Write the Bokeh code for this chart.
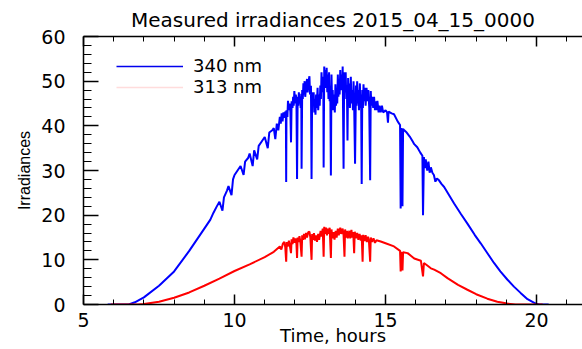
from bokeh.plotting import figure
from bokeh.models import (LinearAxis, Range1d, Legend, LegendItem, FixedTicker,
                          ColumnDataSource, CustomLabelingPolicy)
from bokeh.embed import file_html
from bokeh.resources import INLINE

# ---- data (time in hours, irradiance) ----
time_340 = [5.8, 6.5, 6.7, 7.0, 7.5, 8.0, 8.5, 9.0, 9.2, 9.3, 9.4, 9.5, 9.6, 9.65, 9.75,
            9.8, 9.9, 9.95, 10.0, 10.1, 10.2, 10.3, 10.35, 10.45, 10.5, 10.6, 10.65,
            10.75, 10.8, 10.9, 11.0, 11.1, 11.15, 11.25, 11.3, 11.35, 11.4, 11.45,
            11.50, 11.53, 11.56, 11.59, 11.62, 11.65, 11.68, 11.70, 11.71, 11.72, 11.75,
            11.77, 11.80, 11.83, 11.85, 11.87, 11.89, 11.92, 11.94, 11.96, 11.98, 12.01,
            12.03, 12.05, 12.07, 12.09, 12.11, 12.13, 12.15, 12.17, 12.19, 12.21, 12.22,
            12.24, 12.26, 12.28, 12.30, 12.32, 12.34, 12.37, 12.40, 12.42, 12.45, 12.48,
            12.50, 12.53, 12.55, 12.57, 12.59, 12.62, 12.64, 12.66, 12.68, 12.70, 12.72,
            12.75, 12.77, 12.80, 12.82, 12.84, 12.86, 12.88, 12.90, 12.92, 12.94, 12.95,
            12.97, 12.99, 13.01, 13.03, 13.05, 13.07, 13.09, 13.11, 13.13, 13.15, 13.17,
            13.19, 13.21, 13.23, 13.25, 13.27, 13.30, 13.32, 13.34, 13.36, 13.38, 13.40,
            13.42, 13.44, 13.46, 13.48, 13.50, 13.52, 13.55, 13.57, 13.58, 13.61, 13.63,
            13.65, 13.68, 13.70, 13.72, 13.74, 13.76, 13.78, 13.80, 13.82, 13.85, 13.87,
            13.90, 13.92, 13.94, 13.96, 13.99, 14.02, 14.04, 14.06, 14.08, 14.10, 14.12,
            14.15, 14.17, 14.19, 14.21, 14.23, 14.25, 14.27, 14.29, 14.31, 14.34, 14.37,
            14.40, 14.43, 14.46, 14.49, 14.51, 14.53, 14.56, 14.59, 14.62, 14.65, 14.68,
            14.71, 14.73, 14.77, 14.80, 14.84, 14.88, 14.92, 15.00,
            15.05, 15.08, 15.1, 15.2, 15.28, 15.4, 15.48,
            15.5, 15.53, 15.56, 15.58, 15.62, 15.7, 15.8, 15.9, 15.95, 16.05, 16.15,
            16.22, 16.24, 16.27, 16.3, 16.33, 16.38, 16.42, 16.46, 16.5, 16.55, 16.6,
            16.65, 16.7, 16.77, 16.85, 16.94, 17.1, 17.27, 17.5, 17.71, 17.95, 18.15,
            18.4, 18.59, 18.8, 19.03, 19.25, 19.47, 19.7, 19.97, 20.1, 20.4]
irr_340 = [0.0, 0.0, 0.5, 1.6, 4.2, 7.4, 12.0, 17.0, 19.0, 20.5, 21.8, 23.0, 21.0, 24.0, 25.5,
           26.5, 24.5, 28.0, 29.0, 30.0, 31.0, 29.0, 32.0, 32.8, 33.8, 31.0, 34.5,
           32.5, 35.5, 36.5, 37.5, 35.0, 38.5, 39.0, 39.5, 37.0, 40.5, 39.0,
           42.0, 40.5, 42.8, 41.0, 43.0, 41.8, 43.2, 43.0, 27.4, 43.5, 42.0,
           45.6, 43.5, 45.0, 43.0, 36.3, 45.5, 44.0, 46.5, 44.5, 47.8, 45.0,
           47.0, 45.5, 28.1, 46.5, 44.5, 47.5, 45.0, 46.5, 44.0, 47.2, 30.4,
           48.0, 46.0, 49.5, 47.0, 50.0, 46.5, 49.0, 50.5, 47.5, 50.0, 51.1,
           47.0, 49.0, 28.1, 47.5, 45.0, 47.5, 43.0, 46.0, 42.5, 47.0, 44.0,
           48.5, 43.5, 47.0, 44.5, 49.0, 46.0, 52.0, 47.5, 51.0, 48.0, 30.7,
           53.3, 49.0, 52.5, 48.5, 53.0, 47.5, 51.5, 46.0, 52.0, 45.5, 49.0,
           28.9, 51.5, 45.0, 48.0, 43.5, 47.0, 43.0, 49.3, 44.5, 48.0, 45.0,
           51.5, 46.5, 50.5, 47.0, 52.5, 48.0, 51.5, 49.0, 53.3, 30.4, 52.0,
           47.5, 52.0, 46.0, 49.0, 36.7, 50.7, 45.5, 49.5, 44.0, 51.0, 45.0,
           48.0, 43.5, 50.0, 45.0, 31.5, 49.0, 44.5, 50.0, 45.0, 48.0, 43.5,
           49.5, 44.0, 47.0, 27.0, 48.0, 44.0, 49.3, 45.5, 48.5, 44.5, 48.5,
           45.5, 48.0, 44.0, 27.8, 47.8, 44.5, 46.5, 44.0, 46.5, 43.5, 45.5,
           43.5, 45.6, 43.0, 44.5, 43.0, 44.5, 43.0, 43.5,
           43.0, 40.7, 43.2, 42.8, 42.6, 41.0, 40.2,
           21.5, 39.5, 22.0, 39.3, 39.0, 38.5, 37.6, 36.5, 35.9, 35.2, 34.0,
           33.3, 20.0, 33.0, 30.5, 32.5, 30.0, 32.0, 29.5, 30.7, 29.5, 29.0,
           27.5, 28.2, 27.8, 27.0, 26.3, 24.5, 22.6, 20.2, 18.1, 15.6, 13.7,
           11.2, 9.3, 7.4, 5.6, 4.0, 2.6, 1.2, 0.2, 0.0, 0.0]

time_313 = [5.9, 6.8, 7.0, 7.5, 8.0, 8.5, 9.0, 9.5, 10.0, 10.5, 11.0, 11.3,
            11.50, 11.55, 11.60, 11.65, 11.68, 11.71, 11.73, 11.76, 11.80, 11.83, 11.87,
            11.89, 11.92, 11.95, 11.98, 12.02, 12.05, 12.07, 12.09, 12.12, 12.15, 12.18,
            12.22, 12.24, 12.27, 12.30, 12.33, 12.37, 12.40, 12.44, 12.48, 12.51, 12.55,
            12.57, 12.60, 12.63, 12.66, 12.70, 12.73, 12.77, 12.80, 12.85, 12.88, 12.92,
            12.95, 12.97, 13.00, 13.03, 13.06, 13.09, 13.12, 13.15, 13.19, 13.21, 13.24,
            13.28, 13.31, 13.35, 13.38, 13.42, 13.45, 13.50, 13.53, 13.58, 13.61, 13.64,
            13.66, 13.69, 13.72, 13.75, 13.80, 13.83, 13.87, 13.90, 13.93, 13.96, 13.98,
            14.02, 14.06, 14.10, 14.14, 14.18, 14.21, 14.24, 14.26, 14.30, 14.34, 14.38,
            14.42, 14.45, 14.49, 14.51, 14.55, 14.60, 14.65, 14.70, 14.84,
            15.0, 15.28, 15.48, 15.5, 15.53, 15.56,
            15.58, 15.73, 15.95, 16.17, 16.24, 16.27, 16.35, 16.5, 16.61, 16.83, 17.05,
            17.4, 17.71, 18.0, 18.37, 18.7, 19.03, 19.3, 20.2]
irr_313 = [0.0, 0.0, 0.1, 0.6, 1.5, 2.7, 4.2, 5.8, 7.5, 9.0, 10.6, 11.8,
           13.0, 12.3, 13.6, 14.0, 12.8, 9.6, 14.0, 13.0, 14.3, 13.2, 11.5,
           14.6, 13.5, 15.0, 13.8, 14.8, 13.5, 10.4, 15.0, 14.0, 15.3, 14.0,
           10.7, 15.5, 14.5, 15.8, 14.6, 16.0, 15.0, 16.2, 16.3, 15.0, 10.0,
           15.8, 14.5, 16.0, 14.3, 15.5, 14.0, 15.8, 14.5, 16.5, 15.2, 17.0,
           10.7, 17.4, 15.8, 17.2, 15.5, 17.0, 15.8, 17.2, 10.4, 16.8, 14.8,
           16.2, 14.5, 16.5, 15.0, 17.0, 15.5, 17.2, 15.8, 17.0, 15.5, 10.7,
           16.8, 15.0, 16.5, 14.8, 16.5, 14.8, 16.7, 15.0, 16.2, 11.5, 16.3,
           14.8, 16.0, 14.5, 15.8, 14.3, 15.5, 9.6, 15.6, 14.2, 15.5, 14.0,
           15.2, 14.2, 9.6, 15.0, 14.0, 14.8, 13.8, 14.4, 14.1,
           13.7, 13.0, 12.0, 7.4, 11.8, 7.6,
           11.7, 11.5, 10.3, 9.8, 6.3, 9.3, 8.9, 8.1, 7.8, 7.0, 5.9,
           4.4, 3.3, 2.3, 1.3, 0.6, 0.2, 0.0, 0.0]

x_major_ticks = [5, 10, 15, 20]
y_major_ticks = [0, 10, 20, 30, 40, 50, 60]
x_minor_ticks = [6, 7, 8, 9, 11, 12, 13, 14, 16, 17, 18, 19, 21]
y_minor_ticks = [2, 4, 6, 8, 12, 14, 16, 18, 22, 24, 26, 28, 32, 34, 36, 38,
                 42, 44, 46, 48, 52, 54, 56, 58]
series_labels = ["340 nm", "313 nm"]

FONT = "DejaVu Sans"

p = figure(width=582, height=349, output_backend="svg", toolbar_location=None,
           x_range=Range1d(5, 21.52), y_range=Range1d(0, 60),
           min_border_left=83, min_border_right=0, min_border_top=34,
           min_border_bottom=45, x_axis_label="Time, hours",
           y_axis_label="Irradiances",
           title="Measured irradiances 2015_04_15_0000")
p.grid.visible = False
p.outline_line_color = None
p.background_fill_color = "white"
p.border_fill_color = "white"

p.title.text_font = FONT
p.title.text_font_size = "20px"
p.title.text_font_style = "normal"
p.title.align = "center"
p.title.text_color = "black"


def style_axis(ax, major, minor):
    ax.ticker = FixedTicker(ticks=major, minor_ticks=minor)
    ax.major_tick_in = 10
    ax.major_tick_out = 0
    ax.minor_tick_in = 5
    ax.minor_tick_out = 0
    ax.axis_line_color = "black"
    ax.major_tick_line_color = "black"
    ax.minor_tick_line_color = "black"
    ax.axis_line_width = 1.5
    ax.major_tick_line_width = 1.5
    ax.minor_tick_line_width = 1
    ax.major_label_text_font = FONT
    ax.major_label_text_font_size = "19px"
    ax.major_label_text_color = "black"
    ax.axis_label_text_font = FONT
    ax.axis_label_text_font_size = "18px"
    ax.axis_label_text_font_style = "normal"
    ax.axis_label_text_color = "black"


style_axis(p.xaxis[0], x_major_ticks, x_minor_ticks)
style_axis(p.yaxis[0], y_major_ticks, y_minor_ticks)
p.yaxis[0].major_tick_in = 15
p.yaxis[0].minor_tick_in = 8
p.yaxis[0].major_label_standoff = 18
p.yaxis[0].axis_label_text_font = "Liberation Sans"
p.yaxis[0].axis_label_text_font_size = "16px"
p.yaxis[0].axis_label_standoff = 5
p.xaxis[0].major_label_standoff = 8
p.xaxis[0].axis_label_standoff = -5

# top axis: ticks only, no labels
top = LinearAxis()
style_axis(top, x_major_ticks, x_minor_ticks)
top.major_label_policy = CustomLabelingPolicy(code="return new Set()")
top.major_label_text_font_size = "0px"
top.major_label_standoff = 0
p.add_layout(top, "above")

src340 = ColumnDataSource(data=dict(t=time_340, v=irr_340))
src313 = ColumnDataSource(data=dict(t=time_313, v=irr_313))
p.line("t", "v", source=src340, line_color="#0000ff", line_width=2)
p.line("t", "v", source=src313, line_color="#ff0000", line_width=2)

# legend sample renderers (single point off-range: draws nothing in the plot)
leg_src = ColumnDataSource(data=dict(t=[0.0], v=[-10.0]))
leg_b = p.line("t", "v", source=leg_src, line_color="#0000ee", line_width=1.3)
leg_r = p.line("t", "v", source=leg_src, line_color="#ffdcdc", line_width=1.3)
legend = Legend(items=[LegendItem(label=series_labels[0], renderers=[leg_b]),
                       LegendItem(label=series_labels[1], renderers=[leg_r])],
                location=(33, 207), glyph_width=67, glyph_height=18,
                label_height=18, spacing=0, padding=0, margin=0,
                label_standoff=10, border_line_alpha=0,
                background_fill_alpha=0, label_text_font=FONT,
                label_text_font_size="18px", label_text_color="black")
p.add_layout(legend)

open("out.html", "w").write(file_html(p, INLINE))
